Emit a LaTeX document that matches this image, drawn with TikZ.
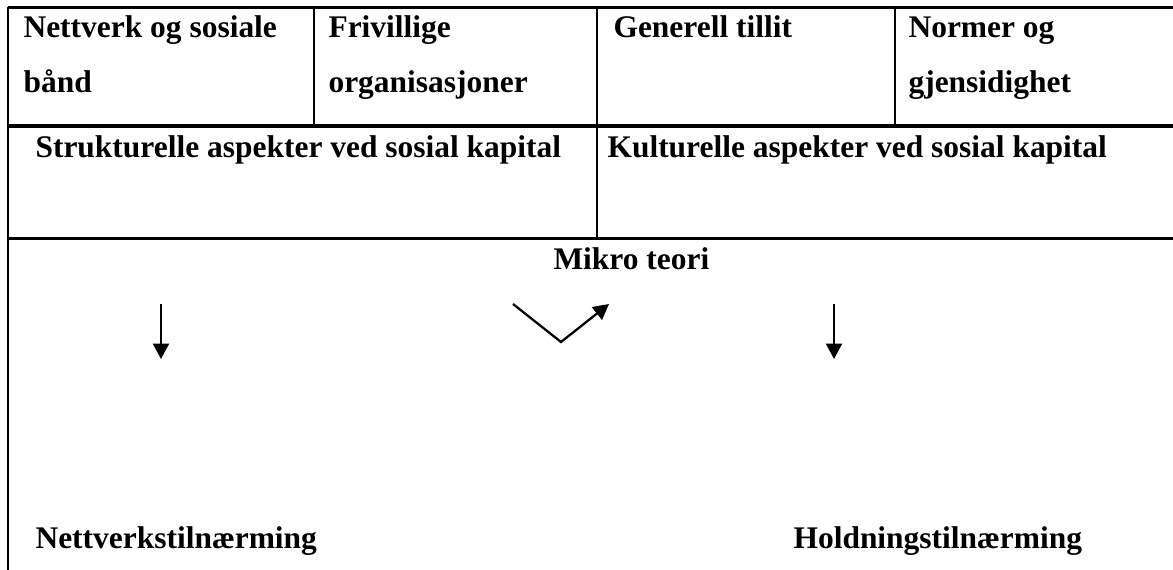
\documentclass[tikz,border=0pt]{standalone}
\usepackage{fontspec}
\setmainfont{Liberation Serif}
\usetikzlibrary{arrows.meta}
\tikzset{%
    txt/.style={anchor=base west,inner sep=0pt,font=\fontsize{11.8}{14}\selectfont\bfseries}
}

\begin{document}
\begin{tikzpicture}[
            x=0.375pt,y=-0.375pt,
            rule/.style={line width=1.15pt},
            sep/.style={line width=0.95pt},
            arr/.style={line width=0.85pt,-{Triangle[length=5.8pt,width=6pt]}}
            ]
            \useasboundingbox (0,0) rectangle (1173,570);

            % table
            \coordinate (tl) at (8,7.5);
            \coordinate (tr) at (1173,7.5);
            \coordinate (ml) at (8,126);
            \coordinate (mr) at (1173,126);
            \coordinate (bl) at (8,238.5);
            \coordinate (br) at (1173,238.5);
            \coordinate (bot) at (8,570);

            \draw[rule] (tl) -- (tr);
            \draw[rule] (ml) -- (mr);
            \draw[rule] (bl) -- (br);
            \draw[sep] (tl) -- (bl);
            \draw[line width=0.7pt] (bl) -- (bot);
            \draw[sep] (314,7.5) -- (314,126);
            \draw[sep] (597,7.5) -- (597,240);
            \draw[sep] (895,7.5) -- (895,126);

            \node[txt] (nett1) at (23,38){Nettverk og sosiale};
            \node[txt] (nett2) at (23,93){bånd};
            \node[txt] (friv1) at (328,38){Frivillige};
            \node[txt] (friv2) at (328,93){organisasjoner};
            \node[txt] (till) at (613,38){Generell tillit};
            \node[txt] (norm1) at (908,38){Normer og};
            \node[txt] (norm2) at (908,93){gjensidighet};

            \node[txt] (strukt) at (35,157){Strukturelle aspekter ved sosial kapital};
            \node[txt] (kult) at (607,157){Kulturelle aspekter ved sosial kapital};

            \node[txt] (mikro) at (553,269){Mikro teori};
            \node[txt] (nvt) at (35,548){Nettverkstilnærming};
            \node[txt] (hdt) at (793,548){Holdningstilnærming};

            % arrows
            \coordinate (a1) at (161,304);
            \coordinate (b1) at (161,359);
            \coordinate (v0) at (513,304);
            \coordinate (v1) at (561,342);
            \coordinate (v2) at (609,304);
            \coordinate (a2) at (834,304);
            \coordinate (b2) at (834,359);

            \draw[arr] (a1) -- (b1);
            \draw[arr] (v0) -- (v1) -- (v2);
            \draw[arr] (a2) -- (b2);
        \end{tikzpicture}
\end{document}
